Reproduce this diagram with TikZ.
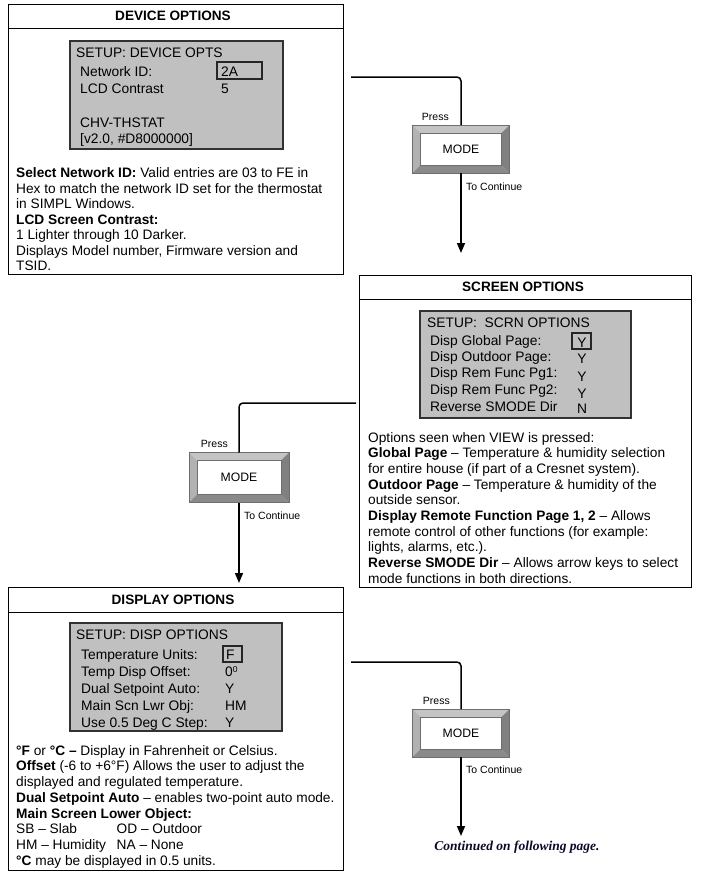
\documentclass[tikz,border=0pt]{standalone}
\usepackage{fontspec}
\setmainfont{Liberation Sans}
\newfontfamily\contfont{Liberation Serif}
\usetikzlibrary{arrows.meta,calc}
\definecolor{lcdgray}{RGB}{192,192,192}
\definecolor{lcdedge}{RGB}{50,50,50}
\definecolor{bvtop}{RGB}{196,196,196}
\definecolor{bvleft}{RGB}{178,178,178}
\definecolor{bvright}{RGB}{128,128,128}
\definecolor{bvbottom}{RGB}{138,138,138}
\definecolor{btnedge}{RGB}{110,110,110}
\definecolor{contblue}{RGB}{10,10,40}
\newcommand\bodyfont{\fontsize{13.7}{15.55}\selectfont}
\newcommand\bevelbtn[1]{%
  \fill[bvtop] (#1.north west) -- (#1.north east) -- ([shift={(-8pt,-8pt)}]#1.north east) -- ([shift={(8pt,-8pt)}]#1.north west) -- cycle;
  \fill[bvleft] (#1.north west) -- ([shift={(8pt,-8pt)}]#1.north west) -- ([shift={(8pt,8pt)}]#1.south west) -- (#1.south west) -- cycle;
  \fill[bvright] (#1.north east) -- (#1.south east) -- ([shift={(-8pt,8pt)}]#1.south east) -- ([shift={(-8pt,-8pt)}]#1.north east) -- cycle;
  \fill[bvbottom] (#1.south west) -- (#1.south east) -- ([shift={(-8pt,8pt)}]#1.south east) -- ([shift={(8pt,8pt)}]#1.south west) -- cycle;
  \draw[btnedge, line width=0.6pt] (#1.north west) rectangle (#1.south east);
  \draw[btnedge, line width=0.5pt] ([shift={(8pt,-8pt)}]#1.north west) rectangle ([shift={(-8pt,8pt)}]#1.south east);
}
\tikzset{
  panel/.style={draw=black, line width=1pt, anchor=north west, inner sep=0pt, outer sep=0pt},
  lcdbox/.style={draw=lcdedge, fill=lcdgray, line width=1.2pt, anchor=north west, inner sep=0pt, outer sep=0pt},
  hlbox/.style={draw=black!85, line width=1.2pt, anchor=north west, inner sep=0pt, outer sep=0pt},
  header/.style={font=\fontsize{13.6}{16}\selectfont\bfseries, inner sep=0pt},
  lcdtxt/.style={font=\fontsize{13.8}{16}\selectfont, anchor=base west, inner sep=0pt},
  lcdval/.style={font=\fontsize{13.8}{16}\selectfont, anchor=base, inner sep=0pt},
  bodytxt/.style={font=\bodyfont, anchor=north west, align=left, inner sep=0pt},
  modebtn/.style={fill=white, inner sep=0pt, outer sep=0pt, minimum width=97pt, minimum height=48pt, font=\fontsize{12.2}{14}\selectfont},
  smalllbl/.style={font=\fontsize{10.5}{12}\selectfont, inner sep=0pt},
  conn/.style={line width=1.5pt, rounded corners=4pt},
  connarrow/.style={line width=1.5pt, -{Triangle[width=8pt,length=10pt]}}
}
\begin{document}
\begin{tikzpicture}[x=1pt,y=-1pt]
\useasboundingbox (0,0) rectangle (705,879);

% ---------------- DEVICE OPTIONS ----------------
\node[panel, minimum width=335pt, minimum height=270pt] (devp) at (8,4) {};
\draw[line width=1pt] ([yshift=-24pt]devp.north west) -- ([yshift=-24pt]devp.north east);
\node[header] (devh) at (173,16) {DEVICE OPTIONS};
\node[lcdbox, minimum width=213pt, minimum height=108pt] (devlcd) at (70,41) {};
\node[hlbox, minimum width=45pt, minimum height=17pt] (devhl) at (217,62) {};
\node[lcdtxt] (d1) at (76,57) {SETUP: DEVICE OPTS};
\node[lcdtxt] (d2) at (80,76) {Network ID:};
\node[lcdtxt] (d3) at (80,93) {LCD Contrast};
\node[lcdtxt] (d4) at (221,76) {2A};
\node[lcdtxt] (d5) at (221,93) {5};
\node[lcdtxt] (d6) at (80,127) {CHV-THSTAT};
\node[lcdtxt] (d7) at (80,143) {[v2.0, \#D8000000]};
\node[bodytxt] (devtxt) at (16,166.4) {\strut\textbf{Select Network ID:} Valid entries are 03 to FE in\\
\strut Hex to match the network ID set for the thermostat\\
\strut in SIMPL Windows.\\
\strut\textbf{LCD Screen Contrast:}\\
\strut 1 Lighter through 10 Darker.\\
\strut Displays Model number, Firmware version and\\
\strut TSID.};

% ---------------- SCREEN OPTIONS ----------------
\node[panel, minimum width=332pt, minimum height=312pt] (scrp) at (359,275) {};
\draw[line width=1pt] ([yshift=-24pt]scrp.north west) -- ([yshift=-24pt]scrp.north east);
\node[header] (scrh) at (523,287) {SCREEN OPTIONS};
\node[lcdbox, minimum width=211pt, minimum height=107pt] (scrlcd) at (420,311) {};
\node[hlbox, minimum width=19pt, minimum height=16pt] (scrhl) at (572,333) {};
\node[lcdtxt] (s0) at (427,327) {SETUP:\ \ SCRN OPTIONS};
\node[lcdtxt] (s1) at (430,345) {Disp Global Page:};
\node[lcdtxt] (s2) at (430,361) {Disp Outdoor Page:};
\node[lcdtxt] (s3) at (430,377.5) {Disp Rem Func Pg1:};
\node[lcdtxt] (s4) at (430,394) {Disp Rem Func Pg2:};
\node[lcdtxt] (s5) at (430,411) {Reverse SMODE Dir};
\node[lcdval] (v1) at (582,347) {Y};
\node[lcdval] (v2) at (582,363) {Y};
\node[lcdval] (v3) at (582,381) {Y};
\node[lcdval] (v4) at (582,398) {Y};
\node[lcdval] (v5) at (582,413) {N};
\node[bodytxt, font=\fontsize{13.7}{15.67}\selectfont] (scrtxt) at (368,431) {\strut Options seen when VIEW is pressed:\\
\strut\textbf{Global Page} – Temperature \& humidity selection\\
\strut for entire house (if part of a Cresnet system).\\
\strut\textbf{Outdoor Page} – Temperature \& humidity of the\\
\strut outside sensor.\\
\strut\textbf{Display Remote Function Page 1, 2} – Allows\\
\strut remote control of other functions (for example:\\
\strut lights, alarms, etc.).\\
\strut\textbf{Reverse SMODE Dir} – Allows arrow keys to select\\
\strut mode functions in both directions.};

% ---------------- DISPLAY OPTIONS ----------------
\node[panel, minimum width=335pt, minimum height=283pt] (disp) at (8,587) {};
\draw[line width=1pt] ([yshift=-25pt]disp.north west) -- ([yshift=-25pt]disp.north east);
\node[header] (dish) at (173,600) {DISPLAY OPTIONS};
\node[lcdbox, minimum width=212pt, minimum height=108pt] (dislcd) at (70,623) {};
\node[hlbox, minimum width=19pt, minimum height=16pt] (dishl) at (223,646) {};
\node[lcdtxt] (p0) at (76,639) {SETUP: DISP OPTIONS};
\node[lcdtxt] (p1) at (81,659) {Temperature Units:};
\node[lcdtxt] (p2) at (81,676) {Temp Disp Offset:};
\node[lcdtxt] (p3) at (81,693) {Dual Setpoint Auto:};
\node[lcdtxt] (p4) at (81,710) {Main Scn Lwr Obj:};
\node[lcdtxt] (p5) at (81,727) {Use 0.5 Deg C Step:};
\node[lcdtxt] (q1) at (226,659) {F};
\node[lcdtxt] (q2) at (225,676) {0\raisebox{4pt}{\fontsize{8.5}{9}\selectfont 0}};
\node[lcdtxt] (q3) at (225,693) {Y};
\node[lcdtxt] (q4) at (225,710) {HM};
\node[lcdtxt] (q5) at (225,727) {Y};
\node[bodytxt, font=\fontsize{13.7}{15.7}\selectfont] (distxt) at (16,744) {\strut\textbf{°F} or \textbf{°C –} Display in Fahrenheit or Celsius.\\
\strut\textbf{Offset} (-6 to +6°F) Allows the user to adjust the\\
\strut displayed and regulated temperature.\\
\strut\textbf{Dual Setpoint Auto} – enables two-point auto mode.\\
\strut\textbf{Main Screen Lower Object:}\\
\strut\makebox[100.5pt][l]{SB – Slab}OD – Outdoor\\
\strut\makebox[100.5pt][l]{HM – Humidity}NA – None\\
\strut\textbf{°C} may be displayed in 0.5 units.};

% ---------------- MODE buttons and connectors ----------------
\node[modebtn] (m1) at (461,149) {MODE};
\bevelbtn{m1}
\node[modebtn, minimum width=100pt, minimum height=50pt] (m2) at (239,477.5) {MODE};
\bevelbtn{m2}
\node[modebtn] (m3) at (461,733) {MODE};
\bevelbtn{m3}

\coordinate (c1a) at (351,77);
\coordinate (c1b) at (461,253);
\coordinate (c2a) at (356,403);
\coordinate (c2b) at (239,583);
\coordinate (c3a) at (351,662);
\coordinate (c3b) at (461,836);

\draw[conn] (c1a) -| (m1.north);
\draw[connarrow] (m1.south) -- (c1b);
\draw[conn] (c2a) -| (m2.north);
\draw[connarrow] (m2.south) -- (c2b);
\draw[conn] (c3a) -| (m3.north);
\draw[connarrow] (m3.south) -- (c3b);

\node[smalllbl, anchor=base east] (pr1) at (449,120) {Press};
\node[smalllbl, anchor=base west] (tc1) at (466,190) {To Continue};
\node[smalllbl, anchor=base east] (pr2) at (228,447) {Press};
\node[smalllbl, anchor=base west] (tc2) at (244,519) {To Continue};
\node[smalllbl, anchor=base east] (pr3) at (450,704) {Press};
\node[smalllbl, anchor=base west] (tc3) at (466,773) {To Continue};

\node[font=\contfont\fontsize{13.5}{16}\selectfont\bfseries\itshape, text=contblue, anchor=base, inner sep=0pt] (cont) at (517,850.5) {Continued on following page.};
\end{tikzpicture}
\end{document}
